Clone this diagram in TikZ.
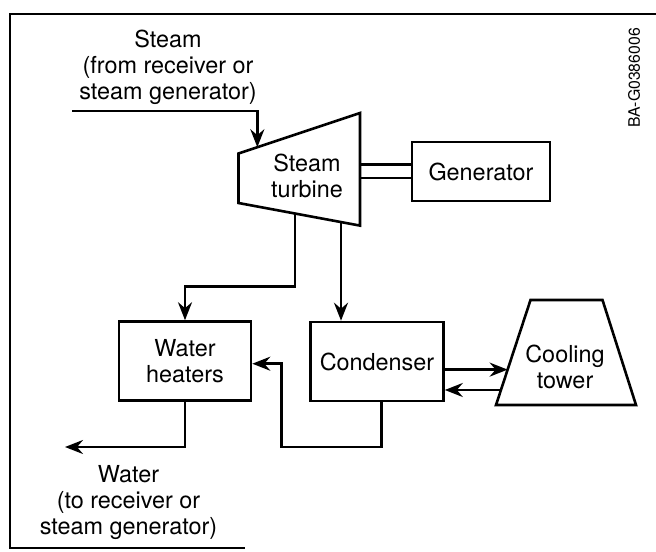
\documentclass[tikz,border=0pt]{standalone}
\usepackage{fontspec}
\setmainfont{TeX Gyre Heros}
\usetikzlibrary{arrows.meta, positioning, calc}
\tikzset{
  unitblock/.style={
    rectangle, draw=black, line width=1.3pt, align=center,
    inner sep=0pt, font=\fontsize{11.7}{13}\selectfont
  },
  labeltext/.style={align=center, inner sep=0pt, font=\fontsize{11.7}{13}\selectfont},
  flowarrow/.style={-{Stealth[length=9pt, width=7pt, inset=3pt]}, line width=1.3pt},
  flowline/.style={line width=1.3pt}
}

\begin{document}
\begin{tikzpicture}[x=0.5pt, y=-0.5pt]
\useasboundingbox (0,0) rectangle (656,551);

% -------- FRAME --------
\draw[flowline] (656,14) -- (10,14) -- (10,548) -- (245,548);
\node[rotate=90, inner sep=0pt, font=\fontsize{7.9}{9}\selectfont] (figid) at (634,78) {BA-G0386006};

% -------- TURBINE AND GENERATOR --------
\coordinate (ttl) at (238.5,153.5);
\coordinate (tbl) at (238.5,203);
\coordinate (ttr) at (360,113);
\coordinate (tbr) at (360,225.6);
\draw[flowline] (ttl) -- (ttr) -- (tbr) -- (tbl) -- cycle;
\node[labeltext] (turb) at (307,176) {Steam\\turbine};

\node[unitblock, minimum width=69pt, minimum height=29.5pt] (gen) at (481,171.5) {Generator};
\coordinate (sh1) at ([yshift=3.5pt]gen.west);
\coordinate (sh2) at ([yshift=-3.3pt]gen.west);
\draw[flowline] (sh1) -- (sh1 -| tbr);
\draw[flowline] (sh2) -- (sh2 -| tbr);

\node[labeltext] (steamlbl) at (168,67) {Steam\\(from receiver or\\steam generator)};
\coordinate (sin) at (72,111);
\draw[flowarrow] (sin) -| ($(ttl)!0.155!(ttr)$);

% -------- HEATERS, CONDENSER, COOLING TOWER --------
\node[unitblock, minimum width=66pt, minimum height=39.5pt] (heat) at (185,361) {Water\\heaters};
\node[unitblock, minimum width=66.5pt, minimum height=39.5pt] (cond) at (377,361.5) {Condenser};

\coordinate (ctbl) at (496,405);
\coordinate (cttl) at (530.5,300);
\coordinate (cttr) at (602.5,300);
\coordinate (ctbr) at (636,405);
\draw[flowline] (ctbl) -- (cttl) -- (cttr) -- (ctbr) -- cycle;
\node[labeltext] (tower) at (565,367) {Cooling\\tower};

\coordinate (tout1) at ($(tbl)!0.465!(tbr)$);
\coordinate (tout2) at ($(tbl)!0.8436!(tbr)$);
\draw[flowarrow] (tout1) |- ($(heat.north)+(0,-34)$) -- (heat.north);
\draw[flowarrow] (tout2) -- (tout2 |- cond.north);

\coordinate (ctin) at ($(ctbl)!0.337!(cttl)$);
\coordinate (ctout) at ($(ctbl)!0.143!(cttl)$);
\draw[flowarrow] (cond.east |- ctin) -- (ctin);
\draw[flowarrow] (ctout) -- (ctout -| cond.east);

% condensate return and feed water out
\coordinate (rloop) at (281.6,447);
\draw[flowarrow] ([xshift=2.3pt]cond.south) |- (rloop) |- ([yshift=-1.35pt]heat.east);
\coordinate (wout) at (65,447);
\draw[flowarrow] (heat.south) |- (wout);
\node[labeltext] (waterlbl) at (128.5,503) {Water\\(to receiver or\\steam generator)};

\end{tikzpicture}
\end{document}
